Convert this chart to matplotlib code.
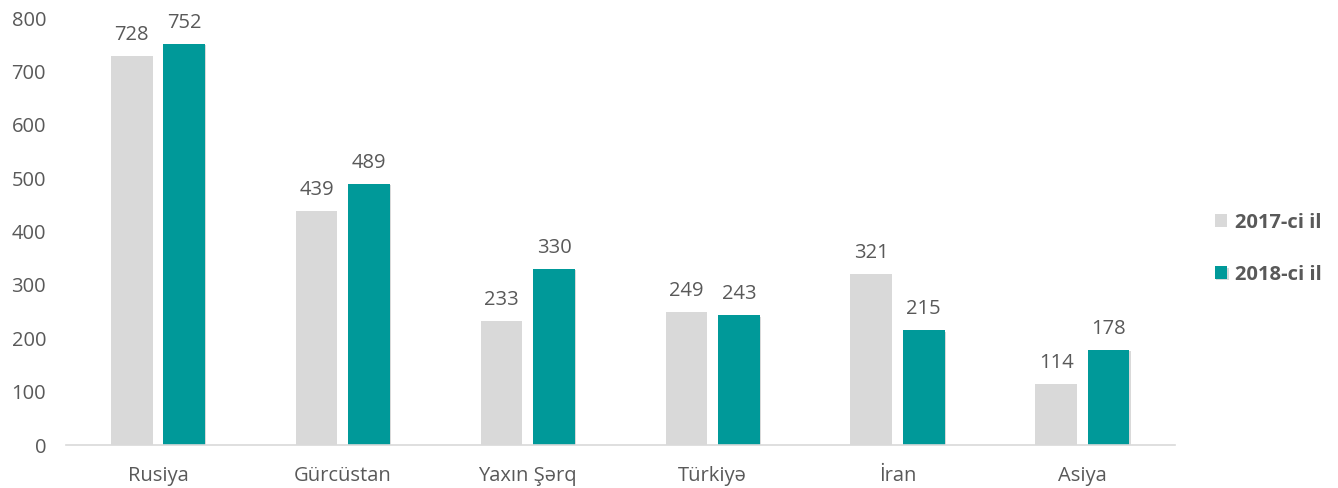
import matplotlib.pyplot as plt
import matplotlib.patheffects as pe
import numpy as np

categories = ["Rusiya", "Gürcüstan", "Yaxın Şərq", "Türkiyə", "İran", "Asiya"]
values_2017 = [728, 439, 233, 249, 321, 114]
values_2018 = [752, 489, 330, 243, 215, 178]
series_labels = ["2017-ci il", "2018-ci il"]

GRAY = "#d9d9d9"
TEAL = "#009999"
TEXT = "#595959"

plt.rcParams["font.family"] = ["Open Sans", "DejaVu Sans"]

fig = plt.figure(figsize=(13.38, 4.88), dpi=100)
ax = fig.add_axes([0.049, 0.088, 0.829, 0.875])

x = np.arange(len(categories))
WIDTH = 0.225
OFF = 0.142

b1 = ax.bar(x - OFF, values_2017, width=WIDTH, color=GRAY, label=series_labels[0])
b2 = ax.bar(x + OFF, values_2018, width=WIDTH, color=TEAL, label=series_labels[1])
for p in b2:
    p.set_path_effects([pe.SimplePatchShadow(offset=(1, -1), alpha=0.15, shadow_rgbFace="k"), pe.Normal()])

for bars, vals in [(b1, values_2017), (b2, values_2018)]:
    for p, v in zip(bars, vals):
        ax.annotate(str(v), (p.get_x() + p.get_width() / 2, v), xytext=(0, 8),
                    textcoords="offset points", ha="center", va="bottom",
                    fontsize=14.5, color=TEXT)

ax.set_xlim(-0.5, len(categories) - 0.5)
ax.set_ylim(0, 800)
ax.set_yticks(range(0, 801, 100))
ax.set_xticks(x)
ax.set_xticklabels(categories)
ax.tick_params(axis="both", length=0, labelsize=14.5, colors=TEXT)
ax.tick_params(axis="y", pad=14)
ax.tick_params(axis="x", pad=15)
for s in ["top", "right", "left"]:
    ax.spines[s].set_visible(False)
ax.spines["bottom"].set_color(GRAY)
ax.spines["bottom"].set_linewidth(1.2)

leg = ax.legend(loc="center left", bbox_to_anchor=(1.02, 0.46), frameon=False,
                fontsize=14.5, handlelength=0.6, handleheight=0.6,
                handletextpad=0.4, labelspacing=1.6)
for t in leg.get_texts():
    t.set_color(TEXT)
    t.set_fontweight("bold")

fig.savefig("out.png", dpi=100)
